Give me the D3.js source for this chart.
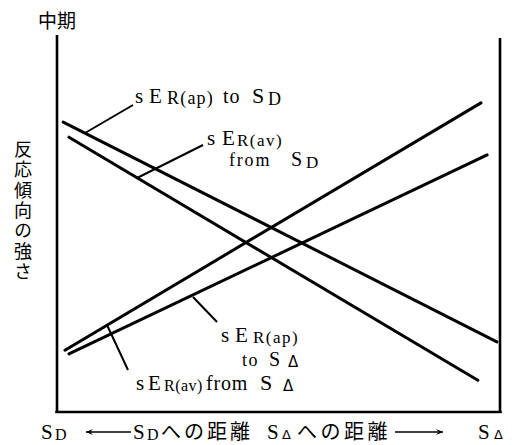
<!DOCTYPE html>
<html><head><meta charset="utf-8">
<script src="https://cdn.jsdelivr.net/npm/d3@7"></script>
<style>body{margin:0;background:#fff}svg{display:block}</style>
</head><body>
<script>
// ---- data (value space: x 0..100 from S_D to S_Δ, y 0..100 strength) ----
const seriesNames = ["apToSD", "avFromSD", "avFromSDelta", "apToSDelta"];
const xStart = [1.4, 2.7, 1.8, 2.7];
const xEnd   = [99.3, 95.0, 95.7, 97.1];
const yStart = [76.9, 72.9, 16.4, 15.4];
const yEnd   = [18.6, 8.4, 82.0, 68.2];
const topLabel = "中期";
const yLabel = "反応傾向の強さ";

const W = 522, H = 445;
const svg = d3.select("body").append("svg").attr("width", W).attr("height", H);
const x = d3.scaleLinear().domain([0, 100]).range([57, 500]);
const y = d3.scaleLinear().domain([0, 100]).range([412, 35]);
const serif = "'Liberation Serif','Times New Roman',serif";
const sans = "'DejaVu Sans',sans-serif";
const cjk = "'Noto Sans CJK JP','Noto Sans CJK SC',sans-serif";

// axes frame (left, bottom, right)
svg.append("g").attr("transform", `translate(${x(0)},0)`).call(d3.axisLeft(y).ticks(0).tickSize(0))
  .call(g => g.select(".domain").attr("stroke", "#000").attr("stroke-width", 2.6).attr("d", `M0,${y(100)}V${y(0)}`));
svg.append("g").attr("transform", `translate(${x(100)},0)`).call(d3.axisRight(y).ticks(0).tickSize(0))
  .call(g => g.select(".domain").attr("stroke", "#000").attr("stroke-width", 2.6).attr("d", `M0,${y(99.2)}V${y(0)}`));
svg.append("g").attr("transform", `translate(0,${y(0)})`).call(d3.axisBottom(x).ticks(0).tickSize(0))
  .call(g => g.select(".domain").attr("stroke", "#000").attr("stroke-width", 2.6).attr("d", `M${x(-0.4)},0H${x(100.4)}`));

// series lines
const line = d3.line().x(d => x(d[0])).y(d => y(d[1]));
seriesNames.forEach((n, i) => {
  svg.append("path").attr("d", line([[xStart[i], yStart[i]], [xEnd[i], yEnd[i]]]))
    .attr("fill", "none").attr("stroke", "#000").attr("stroke-width", 3).attr("stroke-linecap", "round");
});

// leader lines
function ptr(x1, y1, x2, y2) {
  svg.append("line").attr("x1", x1).attr("y1", y1).attr("x2", x2).attr("y2", y2)
    .attr("stroke", "#000").attr("stroke-width", 2);
}
ptr(133, 105, 85, 133);
ptr(203, 145, 137, 178);
ptr(217, 322, 193, 297);
ptr(128, 370, 107, 325);

// label builder: parts with explicit x, baseline y, font size
function label(parts) {
  const t = svg.append("text").attr("font-family", serif).attr("fill", "#000");
  parts.forEach(p => {
    const s = t.append("tspan").text(p.t).attr("x", p.x).attr("y", p.y).attr("font-size", p.fs);
    if (p.ls) s.attr("letter-spacing", p.ls);
    if (p.ff) s.attr("font-family", p.ff);
  });
  return t;
}
label([
  {t: "s", x: 135, y: 103, fs: 21}, {t: "E", x: 149, y: 103, fs: 21}, {t: "R(ap)", x: 167, y: 104, fs: 18, ls: 1.2},
  {t: "to", x: 223, y: 103, fs: 20, ls: 1}, {t: "S", x: 252, y: 103, fs: 22}, {t: "D", x: 268, y: 105, fs: 18}
]);
label([
  {t: "s", x: 207, y: 145, fs: 21}, {t: "E", x: 222, y: 145, fs: 21}, {t: "R(av)", x: 237, y: 146, fs: 17, ls: 1.5},
  {t: "from", x: 229, y: 166, fs: 18, ls: 1.8}, {t: "S", x: 291, y: 166, fs: 20}, {t: "D", x: 306, y: 168, fs: 17}
]);
label([
  {t: "s", x: 221, y: 342, fs: 21}, {t: "E", x: 235, y: 342, fs: 21}, {t: "R(ap)", x: 253, y: 343, fs: 17, ls: 1.5},
  {t: "to", x: 242, y: 366, fs: 18, ls: 1.5}, {t: "S", x: 269, y: 366, fs: 20}, {t: "Δ", x: 288, y: 367, fs: 15, ff: sans}
]);
label([
  {t: "s", x: 136, y: 390, fs: 21}, {t: "E", x: 148, y: 390, fs: 21}, {t: "R(av)", x: 164, y: 391, fs: 16, ls: 0.5},
  {t: "from", x: 206, y: 390, fs: 20, ls: 0.8}, {t: "S", x: 260, y: 390, fs: 22}, {t: "Δ", x: 283, y: 391, fs: 15, ff: sans}
]);

// top label
svg.append("text").attr("x", 57).attr("y", 28).attr("text-anchor", "middle")
  .attr("font-family", cjk).attr("font-size", 19).text(topLabel);

// vertical y label
svg.append("text").attr("font-family", cjk).attr("font-size", 18)
  .attr("writing-mode", "vertical-rl").style("text-orientation", "upright")
  .attr("letter-spacing", 2.4)
  .attr("x", 23).attr("y", 140).text(yLabel);

// bottom labels
const by = 439;
label([{t: "S", x: 41, y: by, fs: 21}, {t: "D", x: 55, y: by + 1, fs: 16}]);
label([{t: "S", x: 133, y: by, fs: 21}, {t: "D", x: 147, y: by + 1, fs: 16},
  {t: "への距離", x: 161, y: by, fs: 20, ff: cjk, ls: 3}]);
label([{t: "S", x: 267, y: by, fs: 21}, {t: "Δ", x: 282, y: by, fs: 13, ff: sans},
  {t: "への距離", x: 297, y: by, fs: 20, ff: cjk, ls: 3.5}]);
label([{t: "S", x: 478, y: by, fs: 21}, {t: "Δ", x: 494, y: by, fs: 13, ff: sans}]);

// arrows
function arrow(xa, xb, yy, dir) {
  svg.append("line").attr("x1", xa).attr("x2", xb).attr("y1", yy).attr("y2", yy)
    .attr("stroke", "#000").attr("stroke-width", 1.3);
  const tip = dir < 0 ? xa : xb;
  const d = dir < 0 ? 7 : -7;
  svg.append("path").attr("d", `M${tip},${yy}L${tip + d},${yy - 3}L${tip + d * 0.6},${yy}L${tip + d},${yy + 3}Z`)
    .attr("fill", "#000");
}
arrow(86, 131, 432, -1);
arrow(395, 443, 432, 1);
</script>
</body></html>
